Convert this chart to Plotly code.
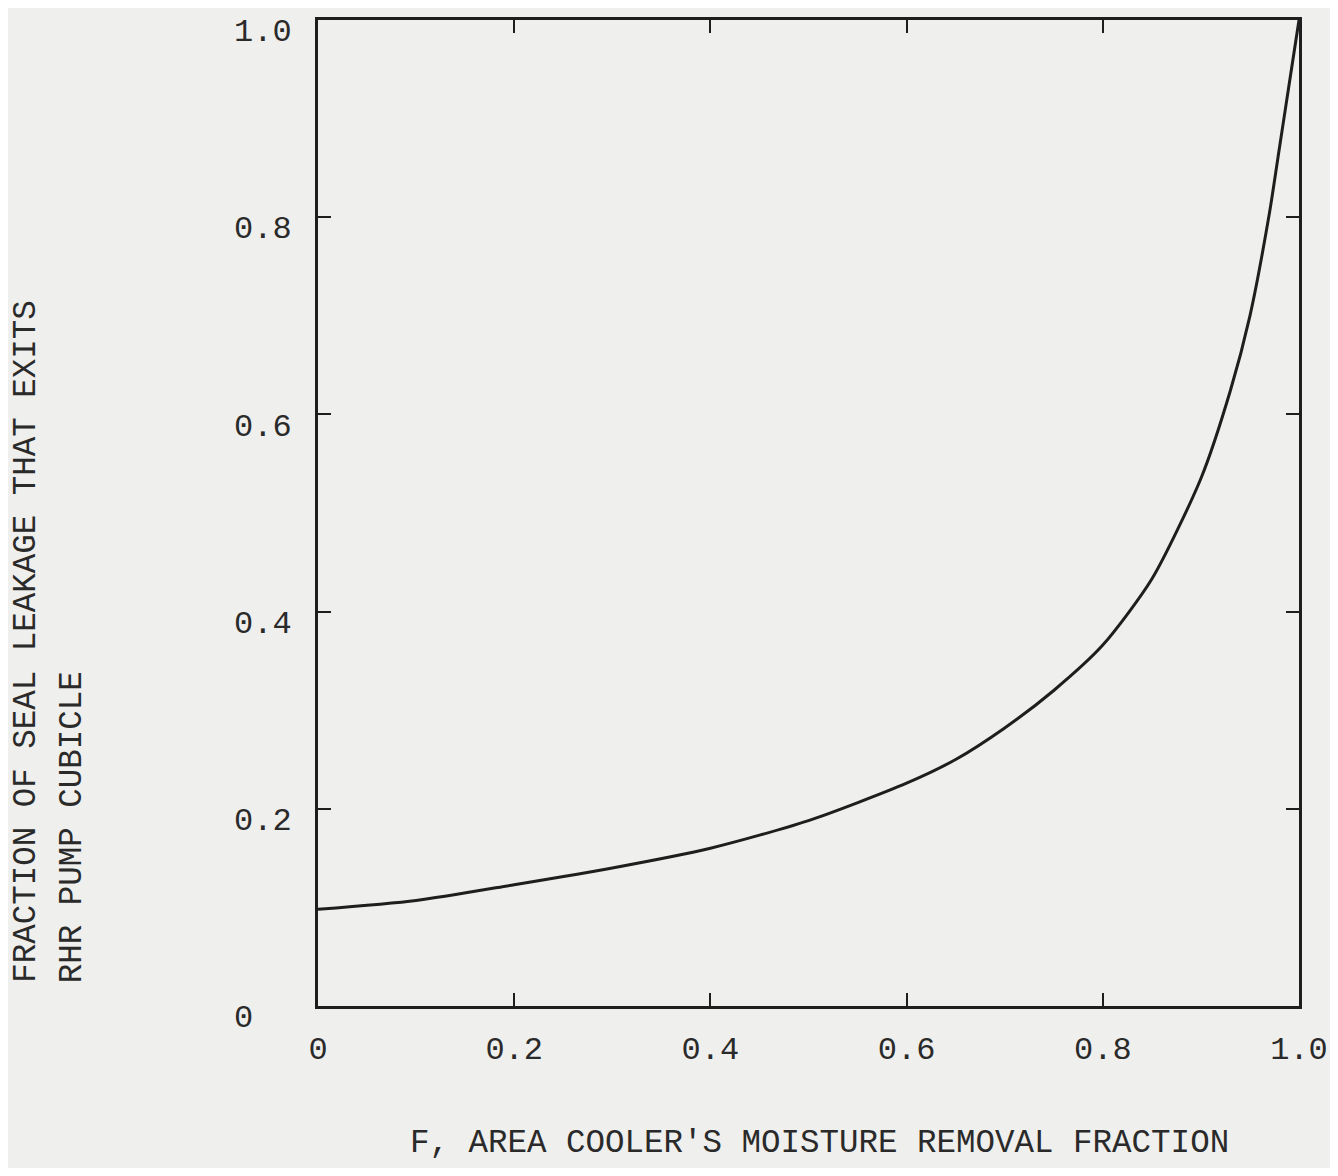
import plotly.graph_objects as go

# Values
F_values = [0.0, 0.1, 0.2, 0.3, 0.4, 0.5, 0.6, 0.65, 0.7, 0.75, 0.8, 0.85, 0.9, 0.93, 0.95, 0.97, 0.98, 0.99, 1.0]
fraction_exits = [0.098, 0.107, 0.123, 0.140, 0.160, 0.188, 0.226, 0.250, 0.282, 0.320, 0.366, 0.433, 0.535, 0.624, 0.700, 0.805, 0.870, 0.935, 1.0]

x_tickvals = [0, 0.2, 0.4, 0.6, 0.8, 1.0]
x_ticktext = ["0", "0.2", "0.4", "0.6", "0.8", "1.0"]
y_tickvals = [0, 0.2, 0.4, 0.6, 0.8, 1.0]
y_ticktext = ["0\u00a0\u00a0", "0.2", "0.4", "0.6", "0.8", "1.0"]

x_title = "F, AREA COOLER'S MOISTURE REMOVAL FRACTION"
y_title_1 = "FRACTION OF SEAL LEAKAGE THAT EXITS"
y_title_2 = "RHR PUMP CUBICLE"

FONT = "Liberation Mono, Courier New, monospace"
INK = "#1e1e1e"
TXT = "#2a2a2a"
BG = "#efefed"

fig = go.Figure()
fig.add_trace(go.Scatter(
    x=F_values, y=fraction_exits, mode="lines",
    line=dict(color=INK, width=3, shape="spline", smoothing=0.7),
    showlegend=False, hoverinfo="skip",
))

axis_common = dict(
    showgrid=False, zeroline=False, showline=True, linecolor=INK, linewidth=3,
    mirror="ticks", ticks="inside", ticklen=13, tickwidth=2, tickcolor=INK,
    tickfont=dict(family=FONT, size=32, color=TXT),
    range=[0, 1], automargin=False, ticklabeloverflow="allow",
)

fig.update_xaxes(tickvals=x_tickvals, ticktext=x_ticktext, ticklabelstandoff=12, **axis_common)
fig.update_yaxes(tickvals=y_tickvals, ticktext=y_ticktext, ticklabelstandoff=17,
                 ticklabelshift=10, **axis_common)

fig.add_annotation(text=x_title, xref="paper", yref="paper", x=0.511, y=-0.139,
                   xanchor="center", yanchor="middle", showarrow=False,
                   font=dict(family=FONT, size=32.5, color=TXT))
fig.add_annotation(text=y_title_1, xref="paper", yref="paper", x=-0.2966, y=0.021,
                   xanchor="center", yanchor="bottom", textangle=-90, showarrow=False,
                   font=dict(family=FONT, size=32.5, color=TXT))
fig.add_annotation(text=y_title_2, xref="paper", yref="paper", x=-0.2507, y=0.021,
                   xanchor="center", yanchor="bottom", textangle=-90, showarrow=False,
                   font=dict(family=FONT, size=32.5, color=TXT))

fig.update_layout(
    width=1322, height=1160,
    margin=dict(l=310, r=31, t=12, b=162),
    paper_bgcolor=BG, plot_bgcolor=BG,
)

fig.write_html("out.html")
